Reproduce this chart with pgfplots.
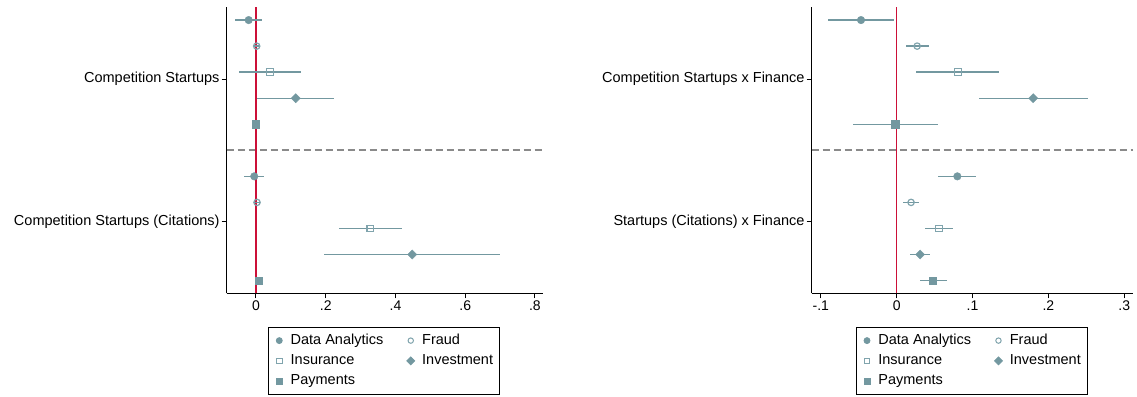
\documentclass[border=0pt]{standalone}
\usepackage{pgfplots}
\usepackage{pgfplotstable}
\pgfplotsset{compat=1.18}
\usepackage{fontspec}
\setmainfont{Liberation Sans}
\definecolor{tealg}{RGB}{115,152,160}
\definecolor{teall}{RGB}{128,164,173}
\definecolor{redl}{RGB}{204,16,56}
\definecolor{dashg}{RGB}{138,138,138}

% columns: y position, estimate, lower CI, upper CI
\pgfplotstableread{
y est lo hi
5 -0.021 -0.059 0.017
-1 -0.005 -0.033 0.023
}\LDA
\pgfplotstableread{
y est lo hi
4 0.002 -0.006 0.010
-2 0.003 -0.005 0.011
}\LFR
\pgfplotstableread{
y est lo hi
3 0.040 -0.050 0.129
-3 0.328 0.237 0.419
}\LIN
\pgfplotstableread{
y est lo hi
2 0.114 0.004 0.224
-4 0.448 0.196 0.701
}\LIV
\pgfplotstableread{
y est lo hi
1 0.000 -0.004 0.004
-5 0.008 0.002 0.014
}\LPA
\pgfplotstableread{
y est lo hi
5 -0.047 -0.090 -0.003
-1 0.080 0.054 0.104
}\RDA
\pgfplotstableread{
y est lo hi
4 0.027 0.012 0.043
-2 0.019 0.008 0.030
}\RFR
\pgfplotstableread{
y est lo hi
3 0.081 0.026 0.135
-3 0.056 0.038 0.074
}\RIN
\pgfplotstableread{
y est lo hi
2 0.180 0.109 0.252
-4 0.031 0.018 0.044
}\RIV
\pgfplotstableread{
y est lo hi
1 -0.002 -0.058 0.055
-5 0.048 0.031 0.067
}\RPA

\pgfplotsset{
  myaxis/.style={
    scale only axis, height=286pt,
    ymin=-5.49, ymax=5.49,
    axis x line*=bottom, axis y line*=left,
    axis line style={black, line width=1pt, -},
    tick style={black, line width=1pt},
    tick align=outside, major tick length=5pt,
    ytick={-2.73,2.73},
    xticklabel style={font=\fontsize{14}{16}\selectfont, inner sep=2pt},
    yticklabel style={font=\fontsize{14.5}{17}\selectfont, inner sep=2pt},
    legend columns=2,
    legend cell align=left,
    legend style={anchor=north west, draw=black, line width=0.8pt,
      font=\fontsize{14.5}{17}\selectfont,
      inner xsep=5.5pt, inner ysep=5.5pt, row sep=4.3pt,
      nodes={inner sep=1pt, text height=10.5pt, text depth=3.5pt},
      /tikz/every even column/.append style={column sep=21pt},
      /tikz/every odd column/.append style={column sep=5pt}},
  },
  ci/.style={only marks,
    error bars/x dir=both, error bars/x explicit,
    error bars/error bar style={draw=tealg, line width=1.4pt, solid},
    error bars/error mark=none},
  limg/.style={legend image code/.code={\draw[only marks] plot coordinates {(5pt,0pt)}; \path (0pt,0pt) (10pt,0pt);}},
}
\newcommand{\ciplot}[2]{%
  \addplot[ci, forget plot, #2] table[x=est, y=y,
    x error plus expr=\thisrow{hi}-\thisrow{est},
    x error minus expr=\thisrow{est}-\thisrow{lo}] {#1};}

\begin{document}
\begin{tikzpicture}
\useasboundingbox (0pt,-396pt) rectangle (1137pt,0pt);

% ---------- left panel ----------
\begin{axis}[myaxis, at={(226.7pt,-293.3pt)}, anchor=south west,
  width=316.6pt, xmin=-0.084, xmax=0.824,
  xtick={0,0.2,0.4,0.6,0.8}, xticklabels={0,.2,.4,.6,.8},
  yticklabels={Competition Startups (Citations),Competition Startups},
  legend style={at={(0.1304,-0.1168)}}]
\addplot[dashg, line width=1.9pt, dash pattern=on 7.5pt off 3.5pt, forget plot] coordinates {(-0.084,0) (0.824,0)};
\addplot[redl, line width=1.6pt, forget plot] coordinates {(0,-5.49) (0,5.49)};
\ciplot{\LDA}{mark=*, mark size=3.8pt, tealg}
\ciplot{\LFR}{mark=o, mark size=3.2pt, teall, mark options={line width=1.2pt}}
\ciplot{\LIN}{mark=square, mark size=3.3pt, teall, mark options={line width=1.2pt}}
\ciplot{\LIV}{mark=square*, mark size=3.2pt, tealg, mark options={rotate=45}}
\ciplot{\LPA}{mark=square*, mark size=3.6pt, tealg}
\addlegendimage{limg, mark=*, mark size=3pt, tealg}
\addlegendentry{Data Analytics}
\addlegendimage{limg, mark=o, mark size=2.7pt, teall, mark options={line width=1pt}}
\addlegendentry{Fraud}
\addlegendimage{limg, mark=square, mark size=2.8pt, teall, mark options={line width=1pt}}
\addlegendentry{Insurance}
\addlegendimage{limg, mark=square*, mark size=2.8pt, tealg, mark options={rotate=45}}
\addlegendentry{Investment}
\addlegendimage{limg, mark=square*, mark size=3pt, tealg}
\addlegendentry{Payments}
\end{axis}

% ---------- right panel ----------
\begin{axis}[myaxis, at={(811.7pt,-293.3pt)}, anchor=south west,
  width=321.6pt, xmin=-0.112, xmax=0.312,
  xtick={-0.1,0,0.1,0.2,0.3}, xticklabels={-.1,0,.1,.2,.3},
  yticklabels={Startups (Citations) x Finance,Competition Startups x Finance},
  legend style={at={(0.1368,-0.1168)}}]
\addplot[dashg, line width=1.9pt, dash pattern=on 7.5pt off 3.5pt, forget plot] coordinates {(-0.112,0) (0.312,0)};
\addplot[redl, line width=1.6pt, forget plot] coordinates {(0,-5.49) (0,5.49)};
\ciplot{\RDA}{mark=*, mark size=3.8pt, tealg}
\ciplot{\RFR}{mark=o, mark size=3.2pt, teall, mark options={line width=1.2pt}}
\ciplot{\RIN}{mark=square, mark size=3.3pt, teall, mark options={line width=1.2pt}}
\ciplot{\RIV}{mark=square*, mark size=3.2pt, tealg, mark options={rotate=45}}
\ciplot{\RPA}{mark=square*, mark size=3.6pt, tealg}
\addlegendimage{limg, mark=*, mark size=3pt, tealg}
\addlegendentry{Data Analytics}
\addlegendimage{limg, mark=o, mark size=2.7pt, teall, mark options={line width=1pt}}
\addlegendentry{Fraud}
\addlegendimage{limg, mark=square, mark size=2.8pt, teall, mark options={line width=1pt}}
\addlegendentry{Insurance}
\addlegendimage{limg, mark=square*, mark size=2.8pt, tealg, mark options={rotate=45}}
\addlegendentry{Investment}
\addlegendimage{limg, mark=square*, mark size=3pt, tealg}
\addlegendentry{Payments}
\end{axis}
\end{tikzpicture}
\end{document}
